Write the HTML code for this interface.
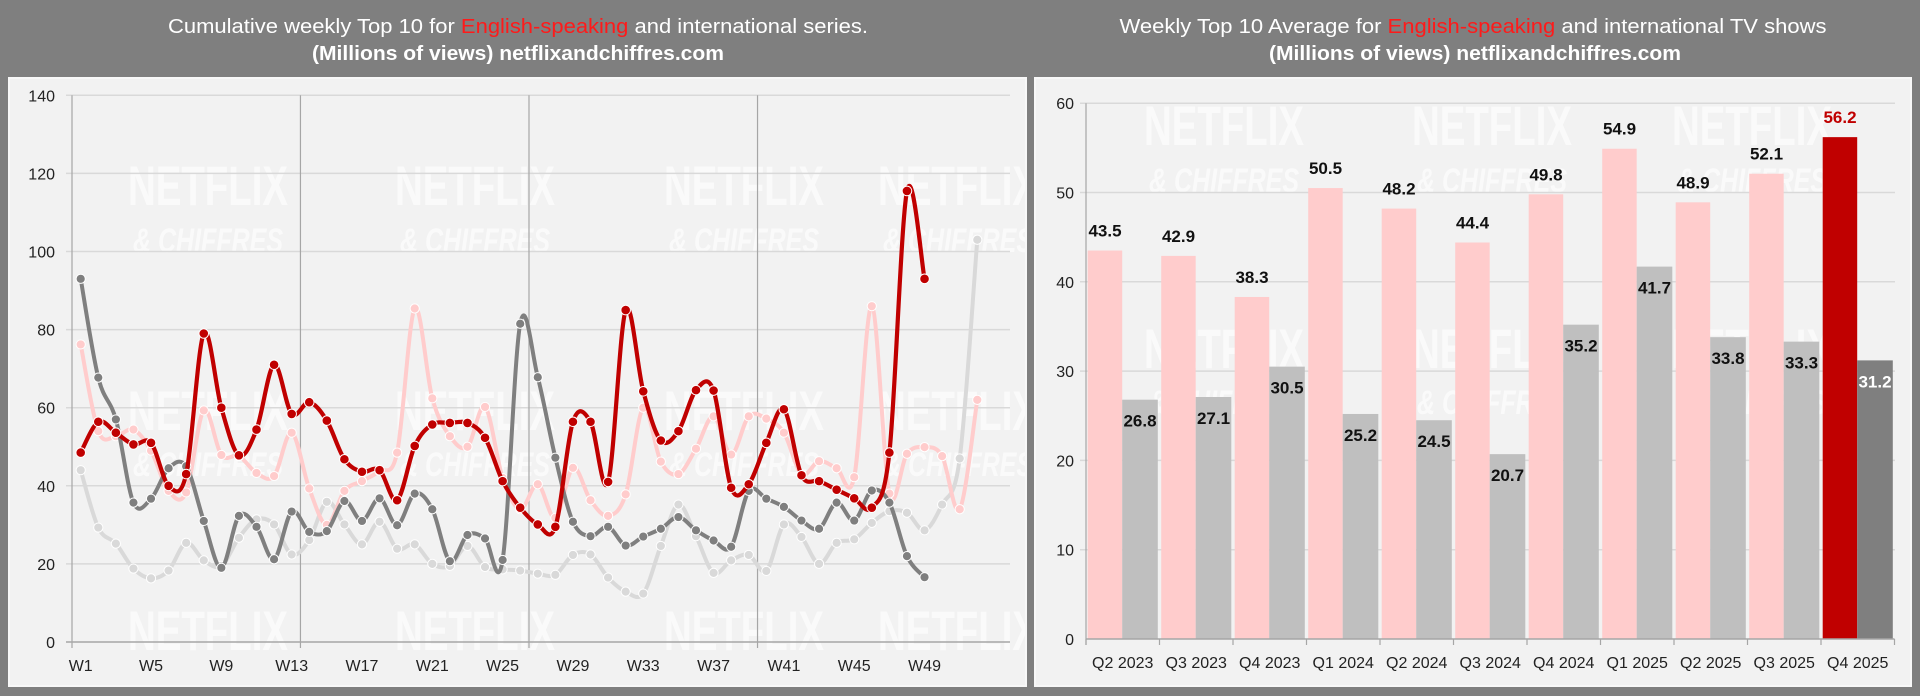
<!DOCTYPE html>
<html><head><meta charset="utf-8">
<style>
html,body{margin:0;padding:0;background:#7f7f7f;}
svg{display:block;font-family:"Liberation Sans",Arial,sans-serif;}
.wm{font-family:"Liberation Sans Narrow","Liberation Sans",sans-serif;font-weight:bold;fill:#ffffff;opacity:0.65;}
</style></head>
<body>
<svg id="root" width="1920" height="696" viewBox="0 0 1920 696" xmlns="http://www.w3.org/2000/svg">
  <rect x="0" y="0" width="1920" height="696" fill="#7f7f7f"/>
  <g>
    <text x="518" y="33" text-anchor="middle" font-size="20" fill="#fff" textLength="700" lengthAdjust="spacingAndGlyphs">Cumulative weekly Top 10 for <tspan fill="#ff1a1a">English-speaking</tspan> and international series.</text>
    <text x="518" y="60" text-anchor="middle" font-size="20" font-weight="bold" fill="#fff" textLength="412" lengthAdjust="spacingAndGlyphs">(Millions of views) netflixandchiffres.com</text>
  </g>
  <g>
    <text x="1473" y="33" text-anchor="middle" font-size="20" fill="#fff" textLength="707" lengthAdjust="spacingAndGlyphs">Weekly Top 10 Average for <tspan fill="#ff1a1a">English-speaking</tspan> and international TV shows</text>
    <text x="1475" y="60" text-anchor="middle" font-size="20" font-weight="bold" fill="#fff" textLength="412" lengthAdjust="spacingAndGlyphs">(Millions of views) netflixandchiffres.com</text>
  </g>
  <rect x="9" y="78" width="1017" height="608" fill="#f2f2f2" stroke="#f8f8f8" stroke-width="2"/>
  <rect x="1035" y="78" width="876" height="608" fill="#f2f2f2" stroke="#f8f8f8" stroke-width="2"/>
  <g id="leftChart"></g>
  <g id="rightChart"></g>
</svg>
<script>
const weeks = [];
for (let i = 1; i <= 52; i++) weeks.push('W' + i);
const xTickLabels = ['W1','W5','W9','W13','W17','W21','W25','W29','W33','W37','W41','W45','W49'];
const yTicksLeft = [0,20,40,60,80,100,120,140];
const englishCurrent = [48.5,56.4,53.6,50.6,51,40,43,79,60,47.8,54.4,71,58.4,61.4,56.7,46.8,43.6,44,36.3,50.2,55.7,56.1,56.1,52.3,41.2,34.4,30.1,29.5,56.4,56.4,41,85,64.2,51.6,54,64.5,64.4,39.5,40.4,51,59.6,42.7,41.2,39,36.8,34.4,48.5,115.5,93];
const intlCurrent = [93,67.7,57,35.7,36.7,44.5,45,31,19,32.3,29.5,21.2,33.4,28.2,28.4,36.1,31,36.8,29.9,38,34,20.7,27.4,26.5,21,81.5,67.8,47.2,30.8,27.1,29.5,24.7,27,29,32,28.6,26,24.4,38.7,36.7,34.6,31.1,29,35.7,31.1,38.8,35.7,22,16.6];
const englishPrev = [76.2,54,52.7,54.4,49,38.7,38.3,59.3,47.9,47.6,43.3,42.5,53.6,39.3,30,38.7,41.2,43.8,48.5,85.4,62.4,52.7,50,60.2,42,34,40.4,31.8,44.6,36.3,32.3,37.8,60,46.2,43,49.5,57.8,48,57.8,57.2,53.6,43,46.3,44.5,42.2,86,38,48.2,49.9,47.6,34,62];
const intlPrev = [44,29.3,25.2,18.8,16.3,18.3,25.4,20.9,19.5,26.7,31.4,30.1,22.4,26.1,35.9,30.1,25,30.8,23.9,25,20,19.5,24.6,19.2,18.6,18.3,17.5,17.2,22.3,22.4,16.5,12.9,12.4,24.6,35.2,27.1,17.7,20.9,22.3,18.2,30.1,26.9,20,25.4,26.3,30.5,33.5,33.1,28.6,35.2,47,103];

const quarters = ['Q2 2023','Q3 2023','Q4 2023','Q1 2024','Q2 2024','Q3 2024','Q4 2024','Q1 2025','Q2 2025','Q3 2025','Q4 2025'];
const englishAvg = [43.5,42.9,38.3,50.5,48.2,44.4,49.8,54.9,48.9,52.1,56.2];
const intlAvg = [26.8,27.1,30.5,25.2,24.5,20.7,35.2,41.7,33.8,33.3,31.2];
const yTicksRight = [0,10,20,30,40,50,60];

const NS = 'http://www.w3.org/2000/svg';
function mk(tag, attrs, parent) {
  const e = document.createElementNS(NS, tag);
  for (const k in attrs) e.setAttribute(k, attrs[k]);
  parent.appendChild(e);
  return e;
}

/* ---------- LEFT ---------- */
const L = document.getElementById('leftChart');
const lx = i => 80.7 + i * 17.58;
const ly = v => 642 - v * 3.905;
const wmColsL = [208, 475, 744, 958];
const wmRowsL = [[205, 252], [430, 476], [650, 700]];
wmColsL.forEach(cx => wmRowsL.forEach(r => {
  const t1 = mk('text', {x: cx, y: r[0], 'text-anchor': 'middle', 'font-size': 56, class: 'wm', textLength: 160, lengthAdjust: 'spacingAndGlyphs'}, L);
  
  
  t1.textContent = 'NETFLIX';
  if (r[1] < 640) {
    const t2 = mk('text', {x: cx, y: r[1], 'text-anchor': 'middle', 'font-size': 34, class: 'wm', 'font-style': 'italic', textLength: 150, lengthAdjust: 'spacingAndGlyphs'}, L);
    
    
    t2.textContent = '& CHIFFRES';
  }
}));
const cp = mk('clipPath', {id: 'lclip'}, L);
mk('rect', {x: 10, y: 79, width: 1015, height: 606}, cp);
L.setAttribute('clip-path', 'url(#lclip)');
yTicksLeft.forEach(v => {
  if (v > 0) {
    const g = mk('line', {x1: 66, x2: 1010, y1: ly(v), y2: ly(v), stroke: '#d9d9d9', 'stroke-width': 1.5}, L);
    
    
  }
  const t = mk('text', {x: 55, y: ly(v) + 6, 'text-anchor': 'end', 'font-size': 16, fill: '#222'}, L);
  
  
  t.textContent = v;
});
[12.5, 25.5, 38.5].forEach(q => {
  const s = mk('line', {x1: lx(q), x2: lx(q), y1: ly(140), y2: ly(0) + 6, stroke: '#a6a6a6', 'stroke-width': 1.2}, L);
  
  
});
const ya = mk('line', {x1: 72, x2: 72, y1: ly(140), y2: ly(0) + 6, stroke: '#a6a6a6', 'stroke-width': 1.2}, L);


const xa = mk('line', {x1: 66, x2: 1010, y1: ly(0), y2: ly(0), stroke: '#a6a6a6', 'stroke-width': 1.5}, L);


xTickLabels.forEach(lab => {
  const i = weeks.indexOf(lab);
  const t = mk('text', {x: lx(i), y: 671, 'text-anchor': 'middle', 'font-size': 16, fill: '#222'}, L);
  
  
  t.textContent = lab;
});
function smoothPath(pts) {
  let d = 'M' + pts[0][0] + ',' + pts[0][1];
  for (let i = 0; i < pts.length - 1; i++) {
    const p0 = pts[i - 1] || pts[i], p1 = pts[i], p2 = pts[i + 1], p3 = pts[i + 2] || p2;
    const t = 1 / 6;
    const c1 = [p1[0] + (p2[0] - p0[0]) * t, p1[1] + (p2[1] - p0[1]) * t];
    const c2 = [p2[0] - (p3[0] - p1[0]) * t, p2[1] - (p3[1] - p1[1]) * t];
    d += ' C' + c1[0].toFixed(1) + ',' + c1[1].toFixed(1) + ' ' + c2[0].toFixed(1) + ',' + c2[1].toFixed(1) + ' ' + p2[0].toFixed(1) + ',' + p2[1].toFixed(1);
  }
  return d;
}
function series(vals, color, w, r, name) {
  const g = mk('g', {}, L);
  
  
  const pts = vals.map((v, i) => [lx(i), ly(v)]);
  const p = mk('path', {d: smoothPath(pts), fill: 'none', stroke: color, 'stroke-width': w, 'stroke-linejoin': 'round'}, g);
  
  
  pts.forEach(pt => {
    const c = mk('circle', {cx: pt[0], cy: pt[1], r: r, fill: color, stroke: '#ffffff', 'stroke-width': 1}, g);
    
    
  });
}
series(intlPrev, '#d9d9d9', 4, 4.6, 'international-previous-year');
series(englishPrev, '#ffcccc', 4, 4.6, 'english-previous-year');
series(intlCurrent, '#7f7f7f', 4, 4.6, 'international-current-year');
series(englishCurrent, '#c00000', 4.2, 4.8, 'english-current-year');

/* ---------- RIGHT ---------- */
const R = document.getElementById('rightChart');
const rx0 = 1086, groupW = 73.5;
const ry = v => 639 - v * 8.93;
const wmColsR = [1224, 1492, 1752];
const wmRowsR = [[145, 192], [368, 414]];
wmColsR.forEach(cx => wmRowsR.forEach(r => {
  const t1 = mk('text', {x: cx, y: r[0], 'text-anchor': 'middle', 'font-size': 56, class: 'wm', textLength: 160, lengthAdjust: 'spacingAndGlyphs'}, R);
  
  
  t1.textContent = 'NETFLIX';
  const t2 = mk('text', {x: cx, y: r[1], 'text-anchor': 'middle', 'font-size': 34, class: 'wm', 'font-style': 'italic', textLength: 150, lengthAdjust: 'spacingAndGlyphs'}, R);
  
  
  t2.textContent = '& CHIFFRES';
}));
yTicksRight.forEach(v => {
  if (v > 0) {
    const g = mk('line', {x1: rx0 - 6, x2: 1895, y1: ry(v), y2: ry(v), stroke: '#d9d9d9', 'stroke-width': 1.5}, R);
    
    
  }
  const t = mk('text', {x: 1074, y: ry(v) + 6, 'text-anchor': 'end', 'font-size': 16, fill: '#222'}, R);
  
  
  t.textContent = v;
});
quarters.forEach((q, i) => {
  const gx = rx0 + i * groupW;
  const last = i === quarters.length - 1;
  const b1 = mk('rect', {x: gx + 1.7, y: ry(englishAvg[i]), width: 34.5, height: ry(0) - ry(englishAvg[i]), fill: last ? '#c00000' : '#ffcccc'}, R);
  
  
  const b2 = mk('rect', {x: gx + 36.2, y: ry(intlAvg[i]), width: 35.6, height: ry(0) - ry(intlAvg[i]), fill: last ? '#7f7f7f' : '#bfbfbf'}, R);
  
  
  const t1 = mk('text', {x: gx + 19, y: ry(englishAvg[i]) - 14, 'text-anchor': 'middle', 'font-size': 17, 'font-weight': 'bold', fill: last ? '#c00000' : '#111'}, R);
  
  
  t1.textContent = englishAvg[i].toFixed(1);
  const t2 = mk('text', {x: gx + 54, y: ry(intlAvg[i]) + 27, 'text-anchor': 'middle', 'font-size': 17, 'font-weight': 'bold', fill: last ? '#ffffff' : '#111'}, R);
  
  
  t2.textContent = intlAvg[i].toFixed(1);
  const tk = mk('line', {x1: gx, x2: gx, y1: ry(0), y2: ry(0) + 6, stroke: '#a6a6a6', 'stroke-width': 1.2}, R);
  
  
  const xl = mk('text', {x: gx + groupW / 2, y: 668, 'text-anchor': 'middle', 'font-size': 16, fill: '#222'}, R);
  
  
  xl.textContent = q;
});
const lastTick = mk('line', {x1: rx0 + 11 * groupW, x2: rx0 + 11 * groupW, y1: ry(0), y2: ry(0) + 6, stroke: '#a6a6a6', 'stroke-width': 1.2}, R);


const rya = mk('line', {x1: rx0, x2: rx0, y1: ry(60), y2: ry(0) + 6, stroke: '#a6a6a6', 'stroke-width': 1.2}, R);


const rxa = mk('line', {x1: rx0, x2: rx0 + 11 * groupW, y1: ry(0), y2: ry(0), stroke: '#a6a6a6', 'stroke-width': 1.5}, R);


</script>
</body></html>
